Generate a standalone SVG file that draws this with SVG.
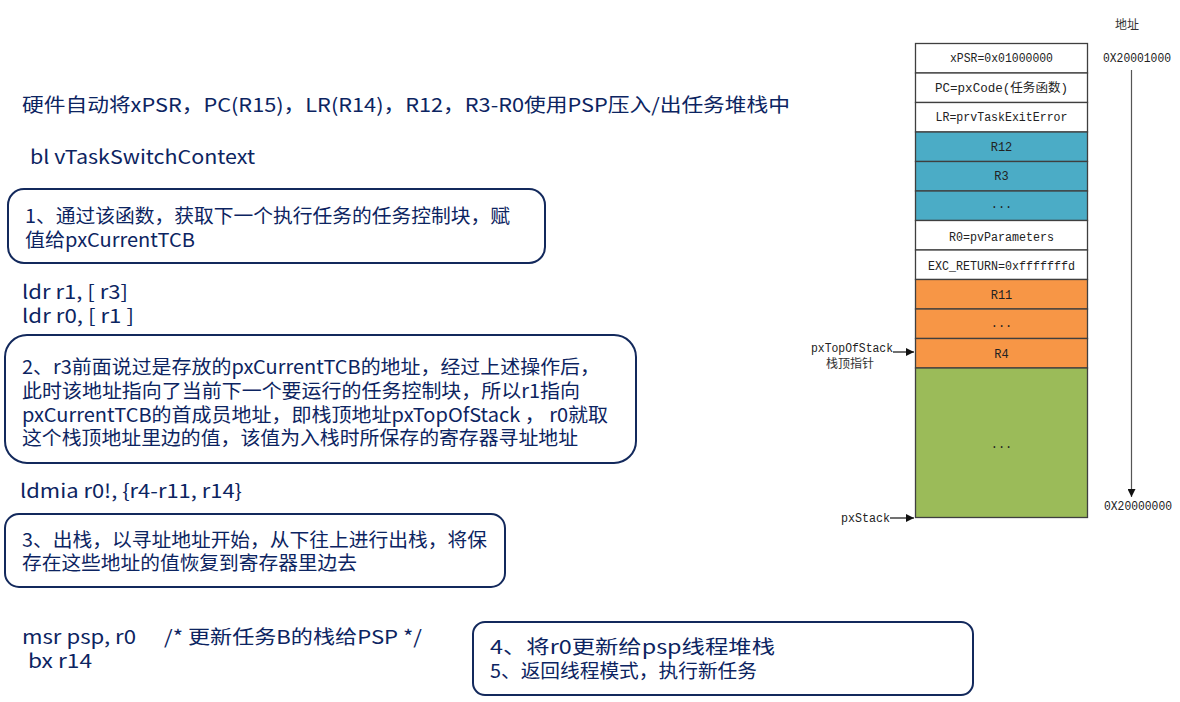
<svg xmlns="http://www.w3.org/2000/svg" width="1180" height="702" viewBox="0 0 1180 702">
<style>
.t{font-family:"Noto Sans CJK SC","Liberation Sans",sans-serif;font-size:19px;fill:#0c2461}
.s{font-family:"Noto Sans CJK SC","Liberation Sans",sans-serif;font-size:19px;fill:#0c2461}
.box{fill:#fff;stroke:#13295c;stroke-width:2}
.cell{stroke:#3f3f3f;stroke-width:1.3}
.m{font-family:"Liberation Mono","Noto Sans CJK SC",monospace;font-size:12px;fill:#222;text-anchor:middle}
.ml{font-family:"Liberation Mono","Noto Sans CJK SC",monospace;font-size:12px;fill:#222}
.cj{font-family:"Noto Sans CJK SC",sans-serif;font-size:12px;fill:#333}
</style>
<defs>
<marker id="ah" viewBox="0 0 10 10" refX="10" refY="5" markerWidth="8" markerHeight="8" markerUnits="userSpaceOnUse" orient="auto"><path d="M0,0L10,5L0,10z" fill="#111"/></marker>
</defs>
<rect width="1180" height="702" fill="#fff"/>

<g id="header">
<text class="t" x="22" y="112" textLength="768" lengthAdjust="spacingAndGlyphs">硬件自动将xPSR，PC(R15)，LR(R14)，R12，R3-R0使用PSP压入/出任务堆栈中</text>
<text class="t" x="30" y="164" textLength="225" lengthAdjust="spacingAndGlyphs">bl vTaskSwitchContext</text>
</g>

<g id="box1">
<rect class="box" x="8" y="189" width="537" height="74" rx="16"/>
<text class="t" x="25" y="223" textLength="485" lengthAdjust="spacingAndGlyphs">1、通过该函数，获取下一个执行任务的任务控制块，赋</text>
<text class="t" x="25" y="247" textLength="170" lengthAdjust="spacingAndGlyphs">值给pxCurrentTCB</text>
</g>

<g id="ldr">
<text class="t" x="22" y="299" textLength="106" lengthAdjust="spacingAndGlyphs">ldr r1, [ r3]</text>
<text class="t" x="22" y="323" textLength="112" lengthAdjust="spacingAndGlyphs">ldr r0, [ r1 ]</text>
</g>

<g id="box2">
<rect class="box" x="5" y="335" width="631" height="128" rx="22"/>
<text class="t" x="22" y="374" textLength="578" lengthAdjust="spacingAndGlyphs">2、r3前面说过是存放的pxCurrentTCB的地址，经过上述操作后，</text>
<text class="t" x="22" y="398" textLength="558" lengthAdjust="spacingAndGlyphs">此时该地址指向了当前下一个要运行的任务控制块，所以r1指向</text>
<text class="t" x="22" y="422" textLength="586" lengthAdjust="spacingAndGlyphs">pxCurrentTCB的首成员地址，即栈顶地址pxTopOfStack ， r0就取</text>
<text class="t" x="22" y="445" textLength="556" lengthAdjust="spacingAndGlyphs">这个栈顶地址里边的值，该值为入栈时所保存的寄存器寻址地址</text>
</g>

<g id="ldmia">
<text class="t" x="20" y="498" textLength="222" lengthAdjust="spacingAndGlyphs">ldmia r0!, {r4-r11, r14}</text>
</g>

<g id="box3">
<rect class="box" x="5" y="514" width="500" height="73" rx="14"/>
<text class="t" x="22" y="547" textLength="465" lengthAdjust="spacingAndGlyphs">3、出栈，以寻址地址开始，从下往上进行出栈，将保</text>
<text class="t" x="22" y="570" textLength="335" lengthAdjust="spacingAndGlyphs">存在这些地址的值恢复到寄存器里边去</text>
</g>

<g id="msr">
<text class="t" x="22" y="644" textLength="114" lengthAdjust="spacingAndGlyphs">msr psp, r0</text>
<text class="t" x="164" y="644" textLength="258" lengthAdjust="spacingAndGlyphs">/* 更新任务B的栈给PSP */</text>
<text class="t" x="28" y="668" textLength="64" lengthAdjust="spacingAndGlyphs">bx r14</text>
</g>

<g id="box4">
<rect class="box" x="473" y="622" width="500" height="73" rx="12"/>
<text class="s" x="490" y="654" textLength="285" lengthAdjust="spacingAndGlyphs">4、将r0更新给psp线程堆栈</text>
<text class="s" x="490" y="678" textLength="267" lengthAdjust="spacingAndGlyphs">5、返回线程模式，执行新任务</text>
</g>

<g id="stack">
<rect class="cell" x="915.5" y="43.5" width="172" height="29.5" fill="#fff"/>
<rect class="cell" x="915.5" y="73" width="172" height="29.5" fill="#fff"/>
<rect class="cell" x="915.5" y="102.5" width="172" height="29.5" fill="#fff"/>
<rect class="cell" x="915.5" y="132" width="172" height="29.5" fill="#4bacc6"/>
<rect class="cell" x="915.5" y="161.5" width="172" height="29.5" fill="#4bacc6"/>
<rect class="cell" x="915.5" y="191" width="172" height="29.5" fill="#4bacc6"/>
<rect class="cell" x="915.5" y="220.5" width="172" height="29.5" fill="#fff"/>
<rect class="cell" x="915.5" y="250" width="172" height="29.5" fill="#fff"/>
<rect class="cell" x="915.5" y="279.5" width="172" height="29.5" fill="#f79646"/>
<rect class="cell" x="915.5" y="309" width="172" height="29.5" fill="#f79646"/>
<rect class="cell" x="915.5" y="338.5" width="172" height="29.5" fill="#f79646"/>
<rect class="cell" x="915.5" y="368" width="172" height="149.5" fill="#9bbb59"/>
<text class="m" x="1001.5" y="62" textLength="103" lengthAdjust="spacingAndGlyphs">xPSR=0x01000000</text>
<text class="m" x="1001.5" y="92" textLength="133" lengthAdjust="spacingAndGlyphs">PC=pxCode(任务函数)</text>
<text class="m" x="1001.5" y="121" textLength="132" lengthAdjust="spacingAndGlyphs">LR=prvTaskExitError</text>
<text class="m" x="1001.5" y="151">R12</text>
<text class="m" x="1001.5" y="180">R3</text>
<text class="m" x="1001.5" y="208">...</text>
<text class="m" x="1001.5" y="241" textLength="105" lengthAdjust="spacingAndGlyphs">R0=pvParameters</text>
<text class="m" x="1001.5" y="270" textLength="147" lengthAdjust="spacingAndGlyphs">EXC_RETURN=0xfffffffd</text>
<text class="m" x="1001.5" y="299">R11</text>
<text class="m" x="1001.5" y="327">...</text>
<text class="m" x="1001.5" y="358">R4</text>
<text class="m" x="1001.5" y="448">...</text>
</g>

<g id="labels">
<text class="cj" x="1115" y="29">地址</text>
<text class="ml" x="1103" y="62" textLength="68" lengthAdjust="spacingAndGlyphs">0X20001000</text>
<text class="ml" x="1104" y="510" textLength="68" lengthAdjust="spacingAndGlyphs">0X20000000</text>
<text class="ml" x="811" y="352" textLength="82" lengthAdjust="spacingAndGlyphs">pxTopOfStack</text>
<text class="cj" x="826" y="368">栈顶指针</text>
<text class="ml" x="841" y="522" textLength="49" lengthAdjust="spacingAndGlyphs">pxStack</text>
</g>

<g id="connectors" stroke="#111" stroke-width="1.2" fill="none">
<line x1="893" y1="352" x2="914" y2="352" marker-end="url(#ah)"/>
<line x1="890" y1="518" x2="914" y2="518" marker-end="url(#ah)"/>
<line x1="1131.5" y1="70" x2="1131.5" y2="497" stroke="#555" marker-end="url(#ah)"/>
</g>
</svg>
